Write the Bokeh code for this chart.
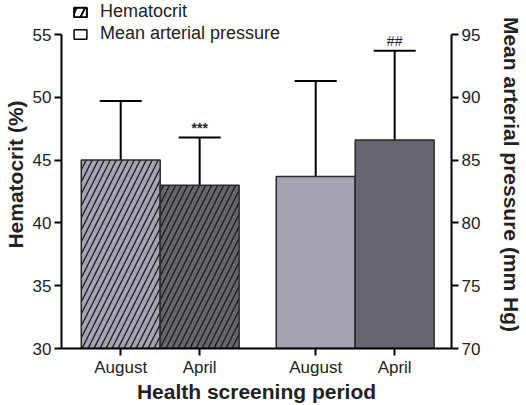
from bokeh.plotting import figure
from bokeh.models import (ColumnDataSource, Range1d, LinearAxis, FixedTicker, Whisker, TeeHead,
                          Legend, LegendItem)
from bokeh.core.properties import value
from bokeh.embed import file_html
from bokeh.resources import INLINE

# ---- data ----
periods = ["August", "April", "August", "April"]
hct_x = [0.75, 1.75]
hct_mean = [45.0, 43.0]
hct_upper = [49.7, 46.8]
map_x = [3.22, 4.22]
map_mean = [83.7, 86.6]
map_upper = [91.3, 93.7]
tick_x = [0.75, 1.75, 3.22, 4.22]
hct_ticks = [30, 35, 40, 45, 50, 55]
map_ticks = [70, 75, 80, 85, 90, 95]
hct_marks = ["", "***"]
map_marks = ["", "##"]
bar_colors = ["#a4a3b3", "#67666e"]

FONT = "Liberation Sans"
TOP_PAD = 2.71  # extra room above the axes for the legend (in axis units)

p = figure(frame_width=390, frame_height=348, output_backend="svg", toolbar_location=None,
           x_range=Range1d(0, 4.94), y_range=Range1d(hct_ticks[0], hct_ticks[-1] + TOP_PAD),
           min_border_left=55, min_border_right=73, min_border_top=0, min_border_bottom=50)
p.extra_y_ranges = {"map": Range1d(map_ticks[0], map_ticks[-1] + TOP_PAD)}
p.outline_line_color = None
p.xgrid.visible = False
p.ygrid.visible = False
p.background_fill_color = "white"

hsrc = ColumnDataSource(dict(x=hct_x, top=hct_mean, upper=hct_upper, color=bar_colors, mark=hct_marks))
msrc = ColumnDataSource(dict(x=map_x, top=map_mean, upper=map_upper, color=bar_colors, mark=map_marks))

p.vbar(x="x", top="top", bottom=hct_ticks[0], width=1.0, source=hsrc, fill_color="color",
       line_color="#2a2a2a", line_width=1.5, hatch_pattern="/", hatch_color="#1a1a1a",
       hatch_scale=12, hatch_weight=1.3)
p.vbar(x="x", top="top", bottom=map_ticks[0], width=1.0, source=msrc, fill_color="color",
       line_color="#2a2a2a", line_width=1.5, y_range_name="map")

w1 = Whisker(base="x", upper="upper", lower="top", source=hsrc, line_width=2, line_color="black",
             upper_head=TeeHead(size=42, line_width=2, line_color="black"), lower_head=None)
w2 = Whisker(base="x", upper="upper", lower="top", source=msrc, line_width=2, line_color="black",
             upper_head=TeeHead(size=42, line_width=2, line_color="black"), lower_head=None,
             y_range_name="map")
p.add_layout(w1)
p.add_layout(w2)

p.text(x="x", y="upper", text="mark", source=hsrc, text_align="center", text_baseline="bottom",
       y_offset=-2, text_font=value(FONT), text_font_size="14px", text_font_style="bold",
       text_color="#222222")
p.text(x="x", y="upper", text="mark", source=msrc, text_align="center", text_baseline="bottom",
       y_offset=-2, text_font=value(FONT), text_font_size="14px", text_color="#222222",
       y_range_name="map")

# legend-only renderers (hidden; used only for their legend swatches)
r_leg1 = p.vbar(x="x", top="top", bottom=hct_ticks[0], width=1, source=hsrc, fill_color="white",
                line_color="black", line_width=2, hatch_pattern="/", hatch_color="black",
                hatch_scale=17, hatch_weight=2, visible=False)
r_leg2 = p.vbar(x="x", top="top", bottom=map_ticks[0], width=1, source=msrc, fill_color="white",
                line_color="black", line_width=1.5, y_range_name="map", visible=False)
leg = Legend(items=[LegendItem(label="Hematocrit", renderers=[r_leg1], index=0),
                    LegendItem(label="Mean arterial pressure", renderers=[r_leg2], index=0)],
             location=(11, 304), glyph_width=16, glyph_height=12, spacing=1, padding=0, margin=0,
             label_text_font=FONT, label_text_font_size="18px", label_text_color="#222222",
             label_standoff=12, border_line_alpha=0, background_fill_alpha=0,
             label_height=20)
p.add_layout(leg)

def style_axis(ax):
    ax.axis_line_width = 2
    ax.axis_line_color = "black"
    ax.major_tick_line_width = 2
    ax.major_tick_line_color = "black"
    ax.major_tick_out = 7
    ax.major_tick_in = 0
    ax.minor_tick_line_color = None
    ax.major_label_text_font = FONT
    ax.major_label_text_font_size = "17px"
    ax.major_label_text_color = "#222222"
    ax.axis_label_text_font = FONT
    ax.axis_label_text_font_style = "bold"
    ax.axis_label_text_color = "#222222"

ly = p.yaxis[0]
style_axis(ly)
ly.ticker = FixedTicker(ticks=hct_ticks)
ly.bounds = (hct_ticks[0], hct_ticks[-1])
ly.axis_label = "Hematocrit (%)"
ly.axis_label_text_font_size = "21px"
ly.axis_label_standoff = 3
ly.major_label_standoff = 3

ry = LinearAxis(y_range_name="map", ticker=FixedTicker(ticks=map_ticks),
                bounds=(map_ticks[0], map_ticks[-1]),
                axis_label="Mean arterial pressure (mm Hg)")
style_axis(ry)
ry.axis_label_text_font_size = "21px"
ry.axis_label_standoff = 17
ry.major_label_standoff = 3
p.add_layout(ry, "right")

xa = p.xaxis[0]
style_axis(xa)
xa.ticker = FixedTicker(ticks=tick_x)
xa.major_label_overrides = {t: lab for t, lab in zip(tick_x, periods)}
xa.axis_label = "Health screening period"
xa.axis_label_text_font_size = "21px"
xa.axis_label_standoff = 0
xa.major_label_standoff = 2

open("out.html", "w").write(file_html(p, INLINE))
